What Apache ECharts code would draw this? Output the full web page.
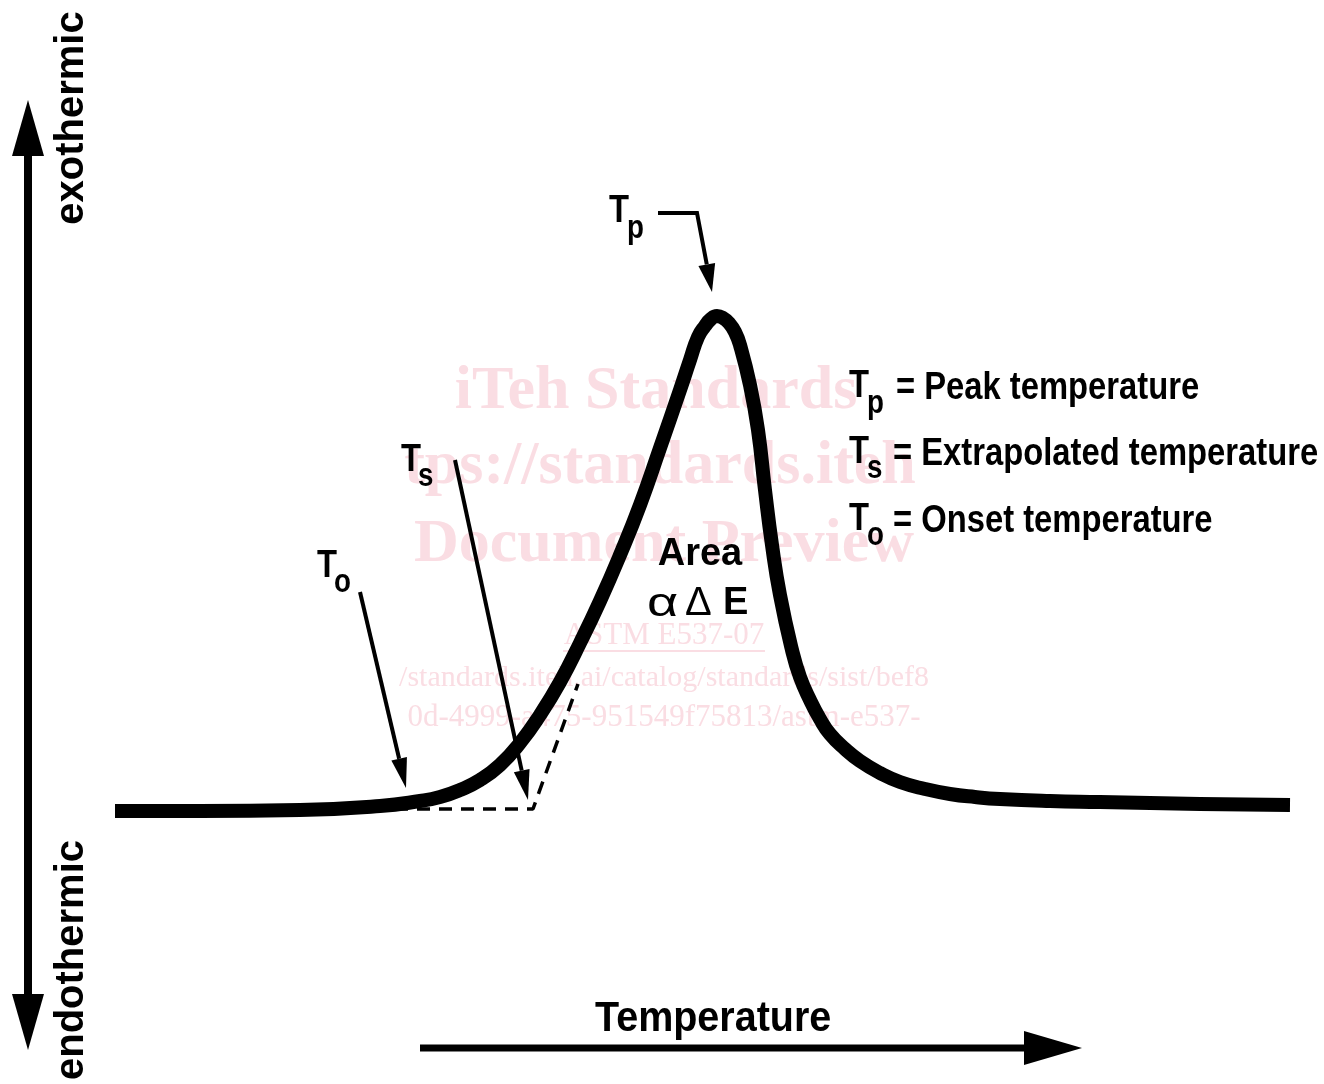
<!DOCTYPE html>
<html>
<head>
<meta charset="utf-8">
<script src="https://cdn.jsdelivr.net/npm/echarts@6/dist/echarts.min.js"></script>
<style>
  html, body { margin: 0; padding: 0; background: #fff; }
  #main { width: 1324px; height: 1084px; }
</style>
</head>
<body>
<div id="main"></div>
<script>
// DSC curve, x = temperature (arbitrary units), y = heat flow above the baseline
var tempX = [115, 200, 300, 380, 420, 440, 460, 480, 500, 520, 540, 560, 580, 600, 620, 640, 660, 680, 690,
  698, 705, 711, 717, 723, 729, 735, 740, 750, 758, 765, 772, 780, 792, 800, 810, 820, 830, 845, 860,
  880, 900, 925, 950, 975, 1000, 1050, 1100, 1200, 1290];
var heatFlow = [0, 0, 1, 5, 10, 14, 21, 31, 46, 68, 96, 129, 168, 210, 256, 306, 363, 421, 451,
  474, 485, 492, 495, 493, 488, 479, 466, 426, 381, 321, 266, 216, 161, 134, 111, 92, 77, 62, 50,
  38, 29, 22, 17, 14, 12, 10, 9, 7, 6];

// extrapolated baseline / tangent (dashed)
var extrapX = [395, 533, 578];
var extrapY = [2, 2, 127];

// annotation arrows (tail ... tip)
var onsetArrow = [[360, 219], [406, 23]];
var extrapArrow = [[455, 351], [528, 11]];
var peakArrow = [[658, 598], [697, 598], [712, 519]];
var heatAxisArrow = [[28, -239], [28, 711]];
var tempAxisArrow = [[420, -237], [1082, -237]];

var curve = tempX.map(function (x, i) { return [x, heatFlow[i]]; });
var dashed = extrapX.map(function (x, i) { return [x, extrapY[i]]; });

// style for each arrow: line width, head length, head width, heads at both ends
var arrows = [
  { pts: onsetArrow, lw: 4, hl: 30, hw: 16, both: false },
  { pts: extrapArrow, lw: 4, hl: 30, hw: 16, both: false },
  { pts: peakArrow, lw: 4, hl: 28, hw: 17, both: false },
  { pts: heatAxisArrow, lw: 8, hl: 56, hw: 32, both: true },
  { pts: tempAxisArrow, lw: 7, hl: 58, hw: 34, both: false }
];

function head(tip, from, hl, hw) {
  var dx = tip[0] - from[0], dy = tip[1] - from[1];
  var len = Math.sqrt(dx * dx + dy * dy);
  var ux = dx / len, uy = dy / len;
  var bx = tip[0] - ux * hl, by = tip[1] - uy * hl;
  return {
    base: [bx, by],
    poly: [tip, [bx - uy * hw / 2, by + ux * hw / 2], [bx + uy * hw / 2, by - ux * hw / 2]]
  };
}

var sans = "'Liberation Sans', Arial, Helvetica, sans-serif";
var serif = "'Liberation Serif', 'Times New Roman', 'DejaVu Serif', serif";
var pink = '#fadde3';

function txt(text, x, y, size, opts) {
  opts = opts || {};
  return {
    type: 'text', x: x, y: y, z: opts.z || 10,
    rotation: opts.rotation || 0, scaleX: opts.sx || 1,
    style: {
      text: text, fill: opts.fill || '#000',
      fontSize: size, fontWeight: opts.weight || 'bold',
      fontFamily: opts.family || sans,
      align: opts.align || 'left', verticalAlign: 'middle'
    }
  };
}

var nw = 0.84; // condensed look
var graphics = [
  // watermark
  txt('iTeh Standards', 656, 392, 62, { fill: pink, family: serif, align: 'center', z: 1 }),
  txt('tps://standards.iteh', 660, 467, 62, { fill: pink, family: serif, align: 'center', z: 1 }),
  txt('Document Preview', 664, 545, 62, { fill: pink, family: serif, align: 'center', z: 1 }),
  txt('ASTM E537-07', 664, 636, 31, { fill: pink, family: serif, weight: 'normal', align: 'center', z: 1 }),
  { type: 'line', z: 1, shape: { x1: 563, y1: 651, x2: 765, y2: 651 }, style: { stroke: pink, lineWidth: 2 } },
  txt('/standards.iteh.ai/catalog/standards/sist/bef8', 664, 678, 30, { fill: pink, family: serif, weight: 'normal', align: 'center', z: 1 }),
  txt('0d-4999-a475-951549f75813/astm-e537-', 664, 718, 31, { fill: pink, family: serif, weight: 'normal', align: 'center', z: 1 }),

  // side labels
  txt('exothermic', 72, 118, 40, { align: 'center', rotation: Math.PI / 2 }),
  txt('endothermic', 72, 960, 40, { align: 'center', rotation: Math.PI / 2 }),
  txt('Temperature', 595, 1019, 42, { sx: 0.94 }),

  // legend
  txt('T', 849, 386, 39, { sx: nw }), txt('p', 867, 404, 33, { sx: nw }),
  txt('= Peak temperature', 896, 388, 39, { sx: nw }),
  txt('T', 849, 452, 39, { sx: nw }), txt('s', 867, 469, 33, { sx: nw }),
  txt('= Extrapolated temperature', 893, 454, 39, { sx: nw }),
  txt('T', 849, 519, 39, { sx: nw }), txt('o', 867, 536, 33, { sx: nw }),
  txt('= Onset temperature', 893, 521, 39, { sx: nw }),

  // point labels
  txt('T', 317, 566, 39, { sx: nw }), txt('o', 334, 583, 33, { sx: nw }),
  txt('T', 401, 460, 39, { sx: nw }), txt('s', 418, 477, 33, { sx: nw }),
  txt('T', 609, 211, 39, { sx: nw }), txt('p', 627, 229, 33, { sx: nw }),

  txt('Area', 700, 555, 38, { align: 'center' }),
  txt('\u03b1', 647, 605, 40, { weight: 'normal', sx: 1.35 }),
  txt('\u0394', 685, 604, 40, { weight: 'normal' }),
  txt('E', 723, 604, 38)
];

var chart = echarts.init(document.getElementById('main'));
chart.setOption({
  animation: false,
  backgroundColor: '#fff',
  grid: { left: 0, right: 0, top: 0, bottom: 0 },
  xAxis: { type: 'value', min: 0, max: 1324, show: false },
  yAxis: { type: 'value', min: -273, max: 811, show: false },
  graphic: graphics,
  series: [
    {
      type: 'line', data: dashed, symbol: 'none', z: 3,
      lineStyle: { color: '#000', width: 3.5, type: [13, 9] }
    },
    {
      type: 'line', data: curve, symbol: 'none', smooth: 0.5, z: 4,
      lineStyle: { color: '#000', width: 14, cap: 'butt', join: 'round' }
    },
    {
      type: 'custom', z: 5,
      data: arrows.map(function (a) { return a.pts[0]; }),
      renderItem: function (params, api) {
        var a = arrows[params.dataIndex];
        var pts = a.pts.map(function (p) { return api.coord(p); });
        var n = pts.length;
        var children = [];
        var end = head(pts[n - 1], pts[n - 2], a.hl, a.hw);
        var line = pts.slice();
        line[n - 1] = end.base;
        children.push({ type: 'polygon', shape: { points: end.poly }, style: { fill: '#000' } });
        if (a.both) {
          var start = head(pts[0], pts[1], a.hl, a.hw);
          line[0] = start.base;
          children.push({ type: 'polygon', shape: { points: start.poly }, style: { fill: '#000' } });
        }
        children.unshift({
          type: 'polyline', shape: { points: line },
          style: { stroke: '#000', lineWidth: a.lw, fill: 'none' }
        });
        return { type: 'group', children: children };
      }
    }
  ]
});
</script>
</body>
</html>
